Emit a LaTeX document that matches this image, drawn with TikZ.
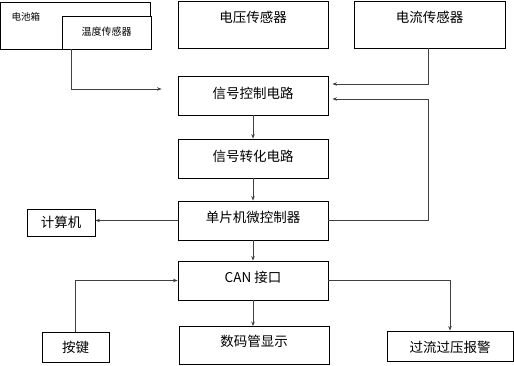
\documentclass[tikz,border=0pt]{standalone}
\usepackage{fontspec}
\setmainfont{Noto Sans CJK SC}
\usetikzlibrary{arrows.meta}
\begin{document}
\begin{tikzpicture}[x=1pt,y=-1pt,
 box/.style={draw=black, line width=0.9pt, inner sep=0pt, fill=white},
 txt/.style={inner sep=0pt, font=\fontsize{13.5}{15}\selectfont},
 small/.style={inner sep=0pt, font=\fontsize{10}{11}\selectfont},
 tiny/.style={inner sep=0pt, font=\fontsize{9.5}{10}\selectfont},
 conn/.style={draw=black!75, line width=0.9pt},
 arr/.style={conn, -{Stealth[length=4.5pt,width=3.5pt]}}]
\useasboundingbox (0,0) rectangle (514,366);
% boxes
\node[box, minimum width=149.5, minimum height=47] (bat) at (75.25,25.5) {};
\node[box, minimum width=89, minimum height=33] (temp) at (106.5,32.5) {};
\node[box, minimum width=150, minimum height=47] (vs) at (253,24.5) {};
\node[box, minimum width=151, minimum height=47] (cs) at (429.5,24.5) {};
\node[box, minimum width=150, minimum height=39] (sc) at (253,95.5) {};
\node[box, minimum width=150, minimum height=39] (conv) at (253,158.5) {};
\node[box, minimum width=150, minimum height=39] (mcu) at (253,220.5) {};
\node[box, minimum width=68, minimum height=27] (pc) at (61,222.5) {};
\node[box, minimum width=150, minimum height=39] (can) at (253,280.5) {};
\node[box, minimum width=67, minimum height=30] (key) at (75.5,347) {};
\node[box, minimum width=150, minimum height=38] (disp) at (254,345.5) {};
\node[box, minimum width=126, minimum height=30] (alarm) at (450,346) {};
% texts
\node[tiny] (tbat) at (26,17) {电池箱};
\node[small] (ttemp) at (106.5,32) {温度传感器};
\node[txt] (tvs) at (253,17) {电压传感器};
\node[txt] (tcs) at (429.5,17) {电流传感器};
\node[txt] (tsc) at (253,93) {信号控制电路};
\node[txt] (tconv) at (253,156) {信号转化电路};
\node[txt] (tmcu) at (253,217) {单片机微控制器};
\node[txt] (tpc) at (61,222) {计算机};
\node[txt] (tcan) at (253,277) {CAN 接口};
\node[txt] (tkey) at (75.5,347) {按键};
\node[txt] (tdisp) at (254,341) {数码管显示};
\node[txt] (talarm) at (450,347) {过流过压报警};
% connectors
\draw[arr] ([xshift=-35.5pt]temp.south) |- ([xshift=-16pt,yshift=6.5pt]sc.west);
\draw[arr] ([xshift=-1.5pt]cs.south) |- ([xshift=4pt,yshift=11.5pt]sc.east);
\draw[arr] (mcu.east) -- ++(100,0) |- ([xshift=4pt,yshift=-3.5pt]sc.east);
\draw[arr] (sc.south) -- (conv.north);
\draw[arr] (conv.south) -- (mcu.north);
\draw[arr] (mcu.south) -- (can.north);
\draw[arr] (mcu.west) -- (mcu.west -| pc.east);
\draw[arr] (can.south) -- (can.south |- disp.north);
\draw[arr] (key.north) |- (can.west);
\draw[arr] (can.east) -| (alarm.north);
\end{tikzpicture}
\end{document}
